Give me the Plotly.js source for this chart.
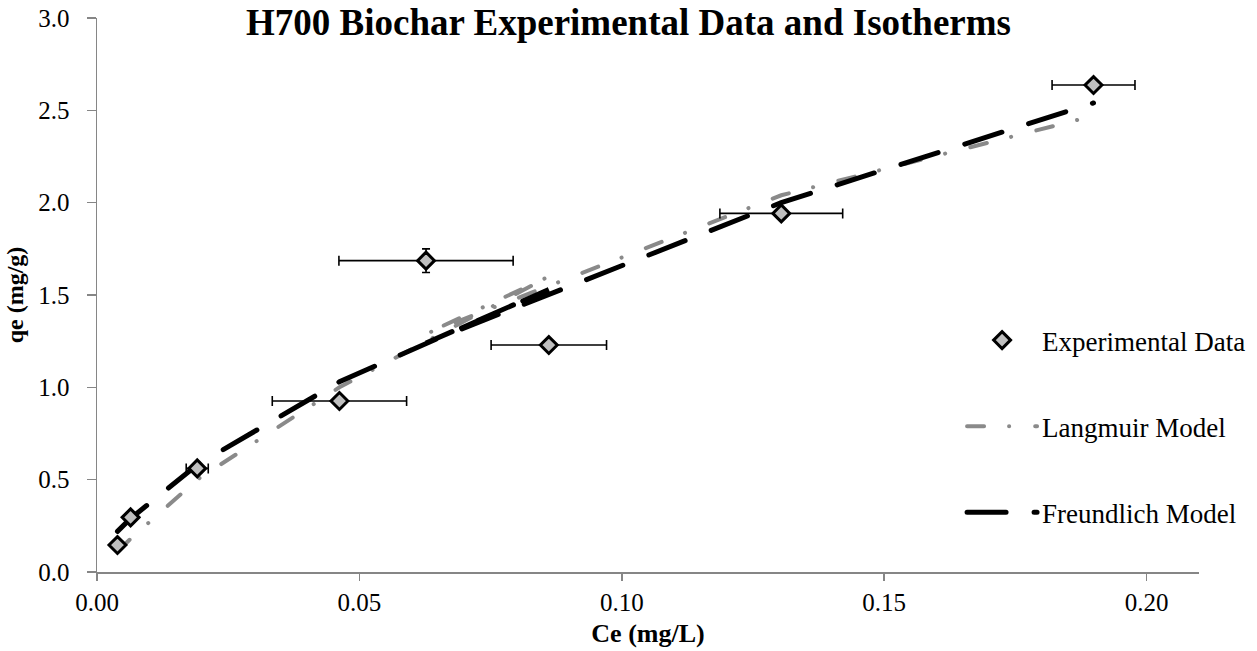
<!DOCTYPE html>
<html>
<head>
<meta charset="utf-8">
<script src="https://cdn.plot.ly/plotly-3.0.1.min.js"></script>
<style>
  html, body { margin: 0; padding: 0; background: #fff; }
  #chart { width: 1257px; height: 651px; }
  /* rounded dash ends for the model curves */
  .scatterlayer .js-line, .legend .js-line { stroke-linecap: round; }
</style>
</head>
<body>
<div id="chart"></div>
<script>
// Equilibrium concentration Ce (mg/L), in sheet order
const ce = [0.0039, 0.0064, 0.0191, 0.0462, 0.0861, 0.0627, 0.1304, 0.1899];
// Measured uptake qe (mg/g)
const qeMeasured = [0.146, 0.296, 0.561, 0.926, 1.229, 1.686, 1.942, 2.637];
// Standard deviations
const ceError = [0, 0, 0.0021, 0.0128, 0.011, 0.0166, 0.0117, 0.0079];
const qeError = [0, 0, 0, 0, 0, 0.064, 0, 0];
// Fitted isotherm values at each Ce
const qeLangmuir = [0.11, 0.18, 0.50, 1.00, 1.60, 1.29, 2.04, 2.47];
const qeFreundlich = [0.22, 0.29, 0.58, 1.03, 1.53, 1.24, 2.00, 2.54];

const xTicks = [0, 0.05, 0.10, 0.15, 0.20];
const xTickText = ['0.00', '0.05', '0.10', '0.15', '0.20'];
const yTicks = [0, 0.5, 1.0, 1.5, 2.0, 2.5, 3.0];
const yTickText = ['0.0', '0.5', '1.0', '1.5', '2.0', '2.5', '3.0'];

const serif = '"Liberation Serif", "Times New Roman", serif';
const axisGray = '#868686';

const traces = [
  {
    x: ce, y: qeLangmuir,
    type: 'scatter', mode: 'lines',
    name: 'Langmuir Model',
    legendgroup: 'lang', legendrank: 2,
    line: { color: '#8a8a8a', width: 4, dash: '17px,25px,0.1px,26px' },
    hoverinfo: 'skip'
  },
  {
    x: ce, y: qeFreundlich,
    type: 'scatter', mode: 'lines',
    name: 'Freundlich Model',
    legendgroup: 'freu', legendrank: 3,
    line: { color: '#000000', width: 5, dash: '39px,28px' },
    hoverinfo: 'skip'
  },
  {
    x: ce, y: qeMeasured,
    type: 'scatter', mode: 'markers',
    name: 'Experimental Data',
    legendgroup: 'exp', legendrank: 1,
    marker: { symbol: 'diamond', size: 13, color: '#bfbfbf',
              line: { color: '#000000', width: 3 } },
    error_x: { type: 'data', array: ceError, visible: true,
               color: '#000000', thickness: 1.6, width: 5 },
    error_y: { type: 'data', array: qeError, visible: true,
               color: '#000000', thickness: 1.6, width: 4 }
  }
];

const layout = {
  width: 1257, height: 651,
  paper_bgcolor: '#ffffff', plot_bgcolor: '#ffffff',
  margin: { l: 97, r: 58, t: 18, b: 79, autoexpand: false },
  font: { family: serif, color: '#000000', size: 25 },
  title: {
    text: '<b>H700 Biochar Experimental Data and Isotherms</b>',
    font: { family: serif, size: 37, color: '#000000' },
    x: 0.5, xref: 'container', xanchor: 'center',
    y: 0.986, yref: 'container', yanchor: 'top'
  },
  xaxis: {
    range: [0, 0.21],
    tickvals: xTicks, ticktext: xTickText,
    ticks: 'outside', ticklen: 7, tickwidth: 1.5, tickcolor: axisGray,
    showline: true, linecolor: axisGray, linewidth: 1.5,
    showgrid: false, zeroline: false,
    tickfont: { family: serif, size: 25, color: '#000000' },
    title: { text: '<b>Ce (mg/L)</b>', font: { family: serif, size: 26, color: '#000000' }, standoff: 9 }
  },
  yaxis: {
    range: [0, 3],
    tickvals: yTicks, ticktext: yTickText,
    ticks: 'outside', ticklen: 9, tickwidth: 1.5, tickcolor: axisGray,
    showline: true, linecolor: axisGray, linewidth: 1.5,
    showgrid: false, zeroline: false,
    tickfont: { family: serif, size: 25, color: '#000000' },
    ticklabelstandoff: 12,
    title: { text: '<b>qe (mg/g)</b>', font: { family: serif, size: 24, color: '#000000' }, standoff: 8 }
  },
  showlegend: true,
  legend: {
    x: 0.785, xanchor: 'left',
    y: 0.462, yanchor: 'top',
    bgcolor: 'rgba(0,0,0,0)',
    font: { family: serif, size: 27, color: '#000000' },
    itemwidth: 70,
    tracegroupgap: 48,
    traceorder: 'grouped'
  }
};

Plotly.newPlot('chart', traces, layout, { displayModeBar: false, staticPlot: true });
</script>
</body>
</html>
